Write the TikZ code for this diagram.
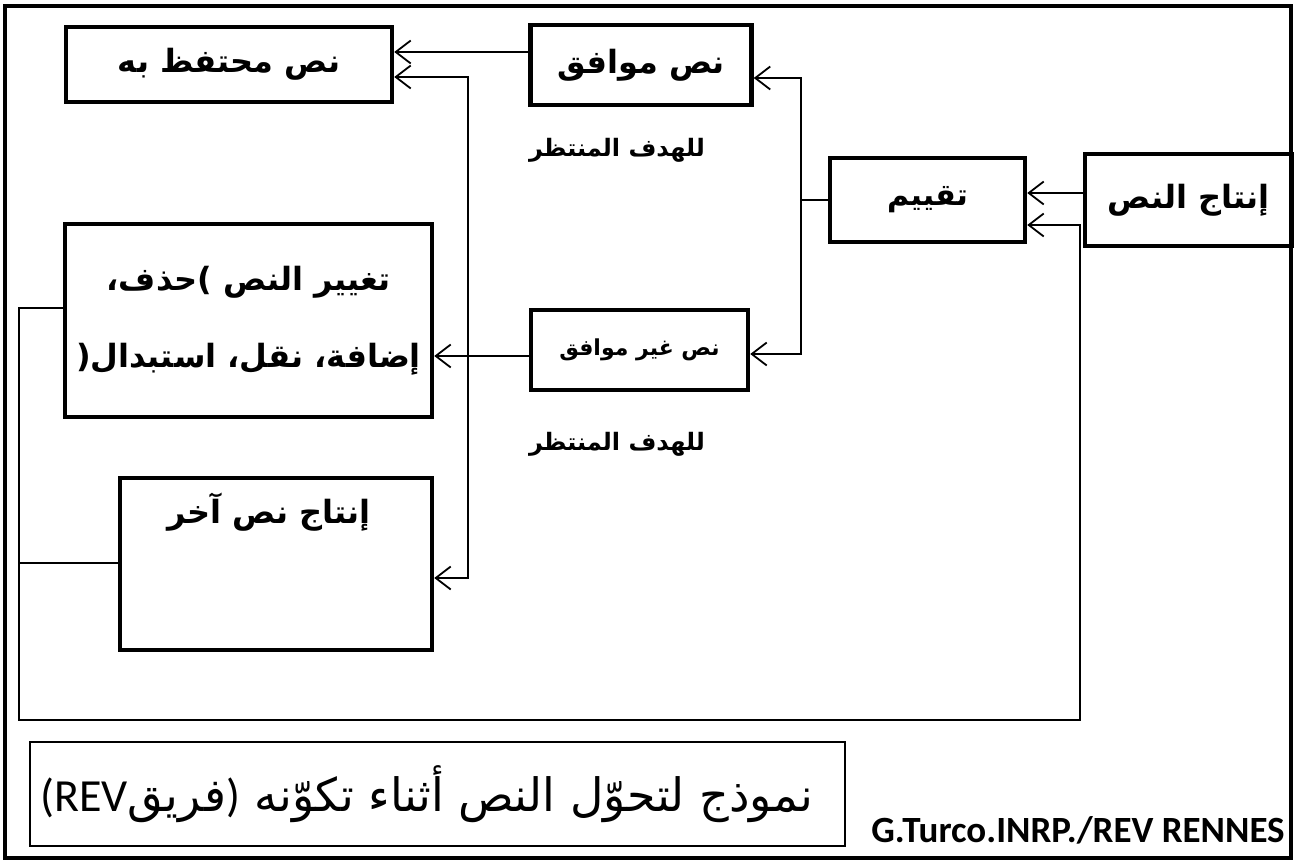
\documentclass[tikz,border=0pt]{standalone}
\usepackage{fontspec}
\usetikzlibrary{arrows.meta}
\newfontfamily\arab[Script=Arabic]{DejaVu Sans}
\newfontfamily\carl{Carlito}
\TeXXeTstate=1
\tikzset{
  box/.style={draw, line width=4.5pt, inner sep=0pt, font=\arab\bfseries\fontsize{32}{40}\selectfont},
  conn/.style={line width=1.8pt},
  lbl/.style={inner sep=0pt, font=\arab\bfseries\fontsize{24}{30}\selectfont},
}
\begin{document}
\begin{tikzpicture}[x=1pt,y=-1pt,>={Straight Barb[length=15pt,width=23pt]}]
\useasboundingbox (0,0) rectangle (1296,864);
\draw[line width=4.5pt] (5,6) rectangle (1291,858);

\node[box, minimum width=326pt, minimum height=75pt] (A) at (229,64.5) {\beginR نص محتفظ به\endR};
\node[box, minimum width=221pt, minimum height=80pt] (B) at (641,65) {\beginR نص موافق\endR};
\node[box, minimum width=195pt, minimum height=84pt, font=\arab\bfseries\fontsize{30}{36}\selectfont] (C) at (927.5,200) {\beginR تقييم\endR};
\node[box, minimum width=207pt, minimum height=92pt] (D) at (1188.5,200) {\beginR إنتاج النص\endR};
\node[box, minimum width=367pt, minimum height=193pt, align=center, font=\arab\bfseries\fontsize{32}{77}\selectfont] (E) at (248.5,320.5) {\beginR تغيير النص \hbox{)}حذف،\endR\\\beginR إضافة، نقل، استبدال\hbox{(}\endR};
\node[box, minimum width=217pt, minimum height=80pt, font=\arab\bfseries\fontsize{22}{26}\selectfont] (F) at (639.5,350) {\beginR نص غير موافق\endR};
\node[box, minimum width=312pt, minimum height=172pt, text height=45pt, text depth=127pt] (G) at (276,564) {\beginR إنتاج نص آخر\endR\hspace*{14pt}};

\node[lbl] (L1) at (617,150) {\beginR للهدف المنتظر\endR};
\node[lbl] (L2) at (617,444) {\beginR للهدف المنتظر\endR};

\node[draw, line width=1.5pt, minimum width=815pt, minimum height=104pt, inner sep=0pt, text height=46pt, text depth=12pt, font=\arab\fontsize{46}{54}\selectfont] (T) at (437.5,794) {\beginR نموذج لتحوّل النص أثناء تكوّنه {\carl\hbox{)}}فريق\beginL{\carl REV}\endL{\carl\hbox{(}}\endR\hspace*{22pt}};
\node[inner sep=0pt, anchor=base, font=\carl\bfseries\fontsize{37}{44}\selectfont] (cr) at (1078,842) {G.Turco.INRP./REV RENNES};

\draw[conn,->] (B.west |- 0,52) -- (A.east |- 0,52);
\draw[conn,<->] (A.east |- 0,77) -- (468,77) -- (468,578) -- (G.east |- 0,578);
\draw[conn,->] (F.west |- 0,356) -- (E.east |- 0,356);
\draw[conn] (C.west) -- (801,200);
\draw[conn,<->] (B.east |- 0,78) -- (801,78) -- (801,354) -- (F.east |- 0,354);
\draw[conn,->] (D.west |- 0,193) -- (C.east |- 0,193);
\draw[conn,->] (E.west |- 0,308) -- (19,308) -- (19,720) -- (1080,720) -- (1080,225) -- (C.east |- 0,225);
\draw[conn] (19,563) -- (G.west |- 0,563);
\end{tikzpicture}
\end{document}
